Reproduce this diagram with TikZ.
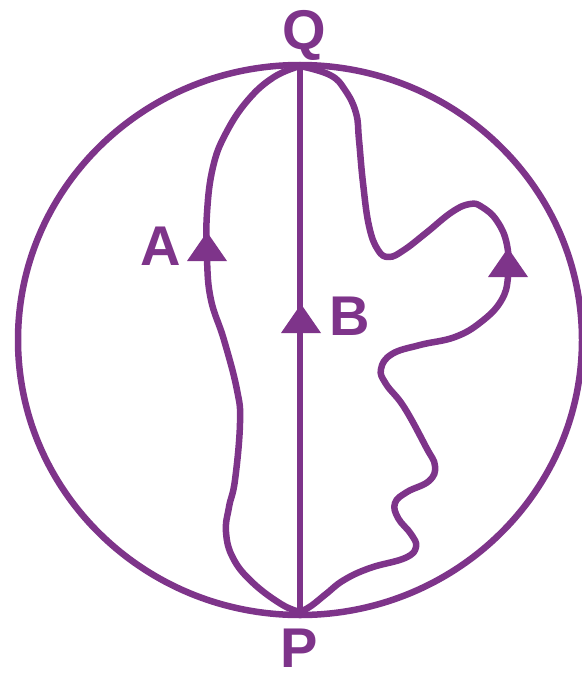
\documentclass[tikz,border=0pt]{standalone}
\usepackage{fontspec}
\setmainfont{Liberation Sans}
\definecolor{vio}{RGB}{126,52,138}
\begin{document}
\begin{tikzpicture}[x=1pt,y=-1pt,
  curve/.style={draw=vio,line width=6.5pt,line join=round,line cap=round},
  lbl/.style={text=vio,inner sep=0pt,anchor=base,text depth=0pt,font=\fontsize{56}{60}\selectfont\bfseries},
  uphead/.pic={\fill[vio] (0,0) -- (-20,29) -- (20,29) -- cycle;}]
\useasboundingbox (0,0) rectangle (581,677);
\coordinate (c) at (300,340);
\coordinate (q) at (300,66);
\coordinate (p) at (300,612);
% outer circle
\draw[curve] (c) ellipse [x radius=282, y radius=275];
% straight path B
\draw[curve] (p) -- (q);
% path A
\draw[curve] plot[smooth,tension=0.7] coordinates {(300,612) (281,604) (252,582) (233,558) (226,532) (229,507) (235,480) (240,423) (237,390) (224,340) (211,300) (207,260) (207,213) (213,167) (226,133) (248,100) (274,77) (300,66)};
% wiggly path
\draw[curve] plot[smooth,tension=0.7] coordinates {(300,612) (311,606) (326,594) (344,580) (370,568) (405,558) (416,547) (411,534) (398,518) (395,503) (407,492) (429,481) (435,466) (426,447) (404,407) (386,384) (381,369) (392,354) (420,345) (455,337) (481,322) (501,301) (508,277) (507,245) (497,221) (482,207) (470,204) (452,212) (426,233) (404,250) (389,257) (378,250) (369,226) (363,183) (359,140) (356,113) (345,90) (330,75) (300,66)};
% arrowheads
\pic at (207,232) {uphead};
\pic at (301,304) {uphead};
\pic at (508,248) {uphead};
% labels
\node[lbl] (Q) at (304,50) {Q};
\node[lbl] (P) at (299,667) {P};
\node[lbl] (A) at (161,265) {A};
\node[lbl] (B) at (350,335) {B};
\end{tikzpicture}
\end{document}
